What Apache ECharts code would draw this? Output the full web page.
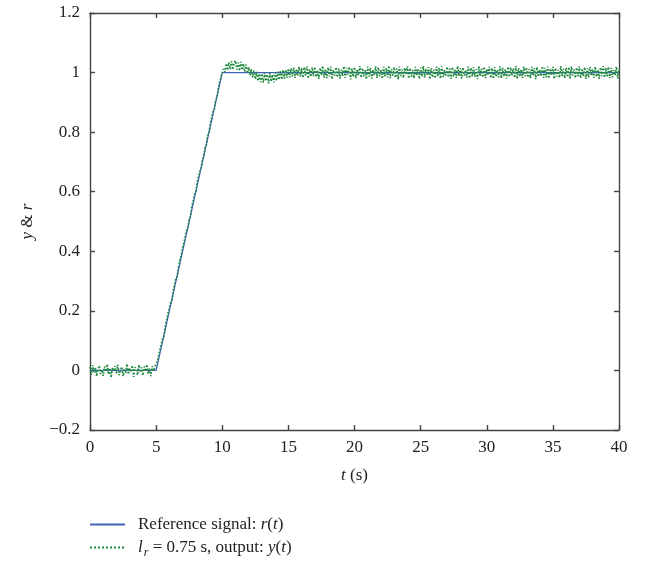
<!DOCTYPE html>
<html>
<head>
<meta charset="utf-8">
<script src="https://cdn.jsdelivr.net/npm/echarts@6/dist/echarts.min.js"></script>
<style>html,body{margin:0;padding:0;background:#fff}#c{width:645px;height:567px}</style>
</head>
<body>
<div id="c"></div>
<script>
// Reference signal r(t): breakpoints
const refT = [0, 5, 10, 40];
const refY = [0, 0, 1, 1];

const sampleStep = 0.1;
const outY = [
 0.012,-0.015,0.018,-0.006,0.010,-0.020,0.004,0.016,-0.012,0.002,
 -0.018,0.013,-0.004,0.021,-0.013,0.008,-0.024,0.010,-0.002,0.015,
 -0.010,0.019,-0.016,0.001,0.012,-0.019,0.006,-0.008,0.022,-0.013,
 0.008,-0.005,0.017,-0.022,0.011,0.002,-0.015,0.019,-0.006,0.010,
 -0.017,0.013,-0.003,0.020,-0.011,0.006,-0.019,0.014,-0.001,0.011,
 0.006,0.030,0.035,0.072,0.078,0.108,0.116,0.150,0.155,0.192,
 0.198,0.228,0.236,0.270,0.276,0.309,0.316,0.350,0.355,0.390,
 0.396,0.430,0.436,0.468,0.478,0.508,0.515,0.550,0.556,0.590,
 0.597,0.630,0.636,0.668,0.677,0.709,0.716,0.748,0.757,0.789,
 0.797,0.830,0.835,0.869,0.876,0.908,0.915,0.948,0.952,0.985,
 0.988,1.012,1.002,1.030,1.008,1.034,1.012,1.038,1.010,1.032,
 1.040,1.010,1.033,1.006,1.036,1.009,1.030,1.003,1.027,0.998,
 1.018,0.990,1.012,0.984,1.006,0.978,1.002,0.972,0.996,0.968,
 0.996,0.966,0.999,0.972,0.994,0.964,0.998,0.970,0.993,0.967,
 1.000,0.972,1.003,0.976,1.005,0.977,1.008,0.980,1.010,0.983,
 1.013,0.984,1.014,0.987,1.017,0.982,1.012,0.989,1.019,0.986,
 1.015,0.983,1.018,0.990,1.021,0.980,1.011,0.986,1.017,0.988,
 1.019,0.985,1.008,0.979,1.016,0.991,1.022,0.983,1.012,0.981,
 1.017,0.987,1.020,0.978,1.009,0.990,1.018,0.984,1.014,0.980,
 1.010,0.989,1.021,0.982,1.016,0.993,1.019,0.977,1.013,0.986,
 1.018,0.981,1.011,0.990,1.022,0.983,1.015,0.987,1.008,0.978,
 1.020,0.986,1.016,0.980,1.010,0.992,1.021,0.982,1.017,0.988,
 1.009,0.979,1.019,0.987,1.015,0.984,1.023,0.981,1.012,0.990,
 1.018,0.983,1.013,0.977,1.020,0.988,1.010,0.982,1.016,0.993,
 1.021,0.980,1.015,0.986,1.009,0.981,1.019,0.990,1.013,0.979,
 1.017,0.987,1.022,0.983,1.012,0.991,1.018,0.978,1.015,0.984,
 1.010,0.981,1.020,0.988,1.016,0.980,1.021,0.985,1.008,0.990,
 1.019,0.984,1.013,0.979,1.018,0.987,1.012,0.982,1.022,0.988,
 1.015,0.980,1.017,0.990,1.009,0.983,1.020,0.981,1.016,0.987,
 1.018,0.986,1.011,0.978,1.021,0.988,1.013,0.984,1.019,0.981,
 1.012,0.991,1.020,0.982,1.015,0.979,1.018,0.987,1.009,0.984,
 1.021,0.981,1.016,0.988,1.011,0.980,1.019,0.985,1.017,0.990,
 1.013,0.983,1.022,0.979,1.015,0.987,1.010,0.982,1.020,0.988,
 1.017,0.984,1.012,0.981,1.019,0.990,1.015,0.978,1.018,0.986,
 1.010,0.988,1.021,0.982,1.016,0.984,1.020,0.980,1.013,0.991,
 1.019,0.979,1.015,0.987,1.009,0.983,1.022,0.988,1.012,0.981,
 1.016,0.985,1.018,0.980,1.020,0.990,1.011,0.982,1.017,0.987,
 1.021,0.981,1.013,0.988,1.018,0.979,1.015,0.984,1.019,0.990,
 1.012,0.982,1.020,0.986,1.010,0.980,1.017,0.988,1.022,0.983,
 1.015,0.987,1.019,0.981,1.016,0.984,1.009,0.991,1.020,0.980,
 1.008
];

const xTicks = {min: 0, max: 40, interval: 5};
const yTicks = {min: -0.2, max: 1.2, interval: 0.2};

const refData = refT.map((t, i) => [t, refY[i]]);
const outData = outY.map((v, i) => [+(i * sampleStep).toFixed(1), v]);

const FONT = 'Liberation Serif';
const axisCol = '#444';
const fmtY = v => {
  const s = Math.abs(v) < 1e-9 ? '0' : (Math.round(v * 10) / 10).toString();
  return s.replace('-', '\u2212');
};

const chart = echarts.init(document.getElementById('c'), null, {renderer: 'canvas'});
const baseAxis = {
  axisLine: {show: true, onZero: false, lineStyle: {color: axisCol, width: 1.4}},
  axisTick: {show: true, inside: true, length: 5, lineStyle: {color: axisCol, width: 1.4}},
  splitLine: {show: false}
};
chart.setOption({
  animation: false,
  textStyle: {fontFamily: FONT},
  grid: {left: 90, right: 26, top: 13, bottom: 137, containLabel: false},
  xAxis: [
    Object.assign({}, baseAxis, {
      type: 'value', min: xTicks.min, max: xTicks.max, interval: xTicks.interval,
      position: 'bottom',
      axisLabel: {color: '#222', fontSize: 17, fontFamily: FONT, margin: 9},
      name: '{i|t} (s)', nameLocation: 'middle', nameGap: 37,
      nameTextStyle: {color: '#222', fontSize: 17, fontFamily: FONT,
        rich: {i: {fontStyle: 'italic', fontSize: 17, fontFamily: FONT, color: '#222'}}}
    }),
    Object.assign({}, baseAxis, {
      type: 'value', min: xTicks.min, max: xTicks.max, interval: xTicks.interval,
      position: 'top', axisLabel: {show: false}
    })
  ],
  yAxis: [
    Object.assign({}, baseAxis, {
      type: 'value', min: yTicks.min, max: yTicks.max, interval: yTicks.interval,
      position: 'left',
      axisLabel: {color: '#222', fontSize: 17, fontFamily: FONT, margin: 10, formatter: fmtY},
      name: '{i|y} & {i|r}', nameLocation: 'middle', nameGap: 54, nameRotate: 90,
      nameTextStyle: {color: '#222', fontSize: 17, fontFamily: FONT,
        rich: {i: {fontStyle: 'italic', fontSize: 17, fontFamily: FONT, color: '#222'}}}
    }),
    Object.assign({}, baseAxis, {
      type: 'value', min: yTicks.min, max: yTicks.max, interval: yTicks.interval,
      position: 'right', axisLabel: {show: false}
    })
  ],
  legend: {
    orient: 'vertical', left: 84, top: 511, itemWidth: 35, itemHeight: 10, itemGap: 6,
    itemStyle: {opacity: 0},
    data: ['ref', 'out'],
    formatter: name => name === 'ref'
      ? '{n|Reference signal: }{i|r}{n|(}{i|t}{n|)}'
      : '{i|l}{s|r}{n| = 0.75 s, output: }{i|y}{n|(}{i|t}{n|)}',
    textStyle: {
      color: '#222', fontSize: 17, fontFamily: FONT, padding: [0, 0, 0, 8],
      rich: {
        n: {fontSize: 17, fontFamily: FONT, color: '#222'},
        i: {fontSize: 17, fontFamily: FONT, fontStyle: 'italic', color: '#222'},
        s: {fontSize: 12, fontFamily: FONT, fontStyle: 'italic', color: '#222', padding: [10, 0, 0, 1]}
      }
    }
  },
  series: [
    {
      name: 'ref', type: 'line', data: refData, symbol: 'none',
      xAxisIndex: 0, yAxisIndex: 0,
      lineStyle: {color: '#4262c0', width: 1.3}, itemStyle: {color: '#4262c0'}, z: 2
    },
    {
      name: 'out', type: 'line', data: outData, symbol: 'none',
      xAxisIndex: 0, yAxisIndex: 0,
      lineStyle: {color: '#1f8a3e', width: 1.7, type: 'dotted'}, itemStyle: {color: '#1f8a3e'}, z: 3
    }
  ]
});
</script>
</body>
</html>
